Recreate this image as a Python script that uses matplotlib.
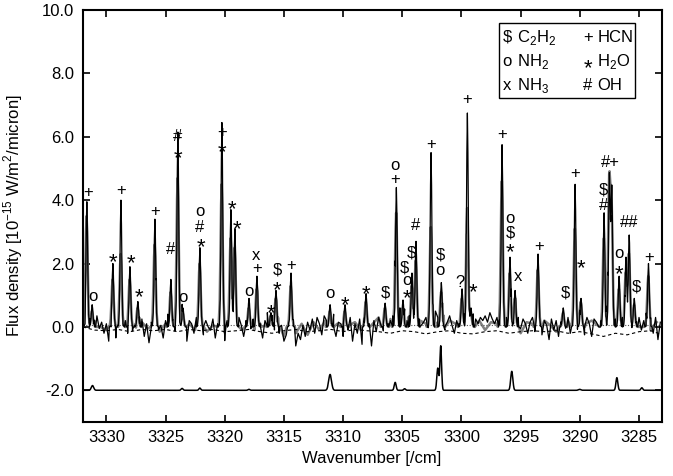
import numpy as np
import matplotlib
matplotlib.use("Agg")
import matplotlib.pyplot as plt
from matplotlib.patches import Rectangle
from matplotlib.transforms import offset_copy

plt.rcParams['font.family'] = ['Liberation Sans', 'DejaVu Sans']
plt.rcParams['axes.unicode_minus'] = False
plt.rcParams['mathtext.fontset'] = 'custom'
plt.rcParams['mathtext.rm'] = 'Liberation Sans'

# ---------------- data ----------------
# emission line centres [cm^-1], heights of black (observed) and grey trace
peak_centers = [3331.65, 3331.2, 3329.45, 3328.77, 3328.01, 3327.34, 3325.9, 3324.55,
                3323.96, 3323.53, 3322.1, 3320.24, 3319.48, 3319.14, 3317.95, 3317.28,
                3316.1, 3315.67, 3314.4, 3311.1, 3309.84, 3308.06, 3306.45, 3305.5,
                3304.94, 3304.18, 3303.84, 3302.57, 3301.7, 3299.95, 3299.5, 3299.2,
                3296.57, 3295.9, 3295.47, 3293.53, 3291.4, 3290.4, 3289.9, 3287.95,
                3287.5, 3287.3, 3286.68, 3286.1, 3285.83, 3285.4, 3284.2]
peak_black = [3.95, 0.7, 2.0, 4.0, 1.9, 0.8, 3.4, 1.5,
              6.15, 0.6, 2.5, 6.45, 3.7, 3.1, 0.9, 1.6,
              0.45, 1.15, 1.7, 0.7, 0.7, 1.05, 0.75, 4.4,
              0.85, 1.7, 2.7, 5.5, 1.4, 1.2, 6.75, 0.6,
              5.75, 2.2, 1.15, 2.3, 0.6, 4.5, 0.9, 3.6,
              4.8, 4.4, 1.6, 2.2, 2.9, 0.9, 2.0]
peak_grey = [3.5, 0.5, 1.5, 2.3, 1.5, 0.6, 2.6, 1.1,
             4.7, 0.45, 2.0, 4.5, 2.8, 2.5, 0.6, 1.2,
             0.35, 0.9, 1.3, 0.5, 0.5, 0.8, 0.6, 3.6,
             0.6, 1.3, 2.1, 3.15, 1.1, 0.9, 3.75, 0.45,
             4.6, 1.7, 0.9, 1.8, 0.45, 3.1, 0.8, 2.8,
             4.5, 3.9, 1.2, 1.7, 2.3, 0.7, 1.6]

# baseline fluctuations of the black trace, every 0.2 cm^-1 from 3332.0 downward
noise_black = [
    -0.55, -0.3, 0.1, 0.25, -0.1, 0.2, 0.35, -0.05, 0.15, -0.2,
    0.1, -0.45, -0.2, 0.15, -0.35, 0.05, -0.55, -0.1, 0.2, -0.25,
    0.3, -0.15, 0.05, -0.4, 0.2, 0.25, -0.3, 0.1, -0.5, 0.15,
    -0.2, 0.3, -0.1, 0.05, -0.35, 0.2, 0.4, -0.25, 0.1, -0.15,
    0.25, -0.3, 0.35, 0.05, -0.45, 0.2, 0.1, -0.2, 0.3, -0.05,
    0.15, -0.25, 0.2, 0.0, -0.1, 0.25, -0.35, 0.1, 0.3, -0.2,
    -0.45, 0.2, -0.1, 0.35, 0.15, -0.25, 0.3, 0.05, -0.3, 0.2,
    0.4, -0.15, 0.25, -0.05, 0.3, 0.1, -0.35, 0.2, 0.45, -0.1,
    0.2, -0.3, 0.15, -0.2, 0.05, -0.45, -0.25, 0.1, -0.5, 0.2,
    -0.6, -0.2, -0.4, 0.05, -0.3, 0.15, -0.1, 0.25, -0.2, 0.3,
    0.1, -0.25, 0.35, 0.2, 0.05, -0.15, 0.4, -0.3, 0.15, 0.1,
    -0.35, 0.2, -0.1, 0.3, -0.45, 0.1, -0.2, 0.25, -0.55, 0.15,
    -0.3, 0.1, -0.6, 0.2, -0.15, 0.3, 0.05, -0.2, 0.15, 0.1,
    0.2, 0.35, 0.5, 0.3, 0.6, 0.25, 0.45, 0.2, 0.35, 0.15,
    0.3, 0.1, 0.25, 0.05, 0.15, 0.3, -0.05, 0.2, 0.4, 0.5,
    0.3, 0.1, 0.25, -0.1, 0.15, 0.35, 0.05, -0.2, 0.2, 0.1,
    0.2, 0.3, 0.5, 0.35, 0.15, 0.4, 0.25, 0.1, 0.3, 0.2,
    0.35, 0.15, 0.45, 0.25, 0.1, 0.3, 0.2, 0.05, 0.25, 0.3,
    0.15, 0.4, -0.1, 0.2, 0.3, -0.05, 0.25, 0.1, -0.2, 0.15,
    0.3, -0.15, 0.35, 0.1, -0.25, 0.2, 0.05, -0.4, 0.25, -0.1,
    0.2, -0.3, 0.15, 0.25, -0.05, 0.3, -0.2, 0.1, 0.35, -0.15,
    0.2, 0.05, -0.25, 0.3, 0.1, -0.3, 0.25, 0.15, 0.0, 0.2,
    0.1, 0.3, -0.1, 0.2, 0.05, 0.25, 0.15, -0.05, 0.3, 0.2,
    0.1, 0.35, -0.05, 0.25, 0.15, 0.3, -0.1, 0.2, 0.4, 0.1,
    0.25, -0.2, 0.3, -0.4, 0.15]

# baseline fluctuations of the grey trace, every 0.5 cm^-1 from 3332.0 downward
noise_grey = [
    0.1, -0.2, 0.15, 0.0, -0.1, 0.2, -0.15, 0.1, 0.05, -0.2,
    0.15, -0.05, 0.2, -0.15, 0.1, 0.0, -0.2, 0.15, 0.1, -0.1,
    0.2, -0.15, 0.05, 0.1, -0.25, 0.15, 0.0, -0.1, 0.2, -0.2,
    0.1, 0.05, -0.15, 0.2, -0.3, 0.0, -0.2, 0.1, -0.25, 0.15,
    -0.1, 0.2, -0.05, 0.1, -0.3, 0.05, 0.15, -0.1, 0.2, 0.1,
    0.3, 0.15, 0.25, 0.1, 0.2, 0.3, 0.05, 0.2, 0.1, 0.25,
    0.15, 0.3, 0.2, 0.1, 0.25, 0.15, 0.05, 0.2, -0.1, 0.15,
    0.1, -0.15, 0.2, 0.0, -0.2, 0.15, 0.1, -0.1, 0.2, 0.05,
    -0.15, 0.1, 0.2, -0.05, 0.15, 0.1, 0.2, 0.05, 0.15, -0.1,
    0.2, 0.1, -0.05, 0.15, 0.0, 0.1, -0.2, 0.15]

# dashed continuum/error level, every 1 cm^-1 from 3332 to 3283
dashed_level = [0.0, -0.1, -0.12, -0.08, -0.15, -0.08, -0.12, -0.08, -0.15, -0.08,
                -0.12, -0.08, -0.15, -0.12, -0.08, -0.15, -0.2, -0.12, -0.08, -0.15,
                -0.12, -0.08, -0.15, -0.08, -0.12, -0.15, -0.2, -0.12, -0.15, -0.22,
                -0.15, -0.12, -0.2, -0.22, -0.15, -0.12, -0.2, -0.15, -0.12, -0.15,
                -0.12, -0.2, -0.15, -0.22, -0.3, -0.2, -0.25, -0.15, -0.12, -0.25]
dotted_level = 0.05

# lower (offset) trace: features on top of -2.0
lower_offset = -2.0
lower_centers = [3331.17, 3323.6, 3322.1, 3317.95, 3311.1, 3305.6, 3304.8,
                 3302.0, 3301.75, 3295.75, 3290.0, 3286.87, 3284.76]
lower_heights = [0.15, 0.06, 0.07, 0.03, 0.5, 0.25, 0.05,
                 0.7, 1.4, 0.6, 0.03, 0.4, 0.08]
lower_widths = [0.1, 0.08, 0.08, 0.08, 0.12, 0.08, 0.08,
                0.08, 0.07, 0.09, 0.1, 0.08, 0.08]

# species identifications: (wavenumber, flux, symbol)
label_x = [3331.56, 3331.14, 3329.45, 3328.77, 3327.93, 3327.25, 3325.9, 3324.55,
           3323.96, 3323.96, 3323.53, 3322.1, 3322.1, 3322.01, 3320.24, 3320.24,
           3319.39, 3318.97, 3317.95, 3317.36, 3317.28, 3316.1, 3315.59, 3315.59,
           3314.4, 3311.11, 3309.84, 3308.07, 3306.46, 3305.62, 3305.62, 3304.86,
           3304.61, 3304.61, 3304.27, 3303.84, 3302.57, 3301.81, 3301.81, 3300.12,
           3299.02, 3299.53, 3296.57, 3295.89, 3295.89, 3295.89, 3295.22, 3293.44,
           3291.24, 3290.4, 3289.89, 3287.44, 3288.03, 3288.03, 3285.83, 3286.68,
           3286.68, 3285.24, 3284.14]
label_y = [4.23, 0.95, 2.24, 4.29, 2.21, 1.14, 3.63, 2.43,
           6.0, 5.53, 0.92, 3.63, 3.13, 2.72, 6.13, 5.72,
           3.92, 3.28, 1.11, 2.24, 1.83, 0.63, 1.80, 1.36,
           1.93, 1.04, 0.88, 1.23, 1.07, 5.08, 4.64, 1.86,
           1.45, 1.10, 2.34, 3.19, 5.75, 2.27, 1.77, 1.39,
           1.29, 7.17, 6.06, 3.41, 2.97, 2.56, 1.58, 2.53,
           1.07, 4.83, 2.05, 5.18, 4.33, 3.82, 3.28, 2.31,
           1.86, 1.26, 2.18]
label_txt = ['+', 'o', '*', '+', '*', '*', '+', '#',
             '#', '*', 'o', 'o', '#', '*', '+', '*',
             '*', '*', 'o', 'x', '+', '*', '$', '*',
             '+', 'o', '*', '*', '$', 'o', '+', '$',
             'o', '*', '$', '#', '+', '$', 'o', '?',
             '*', '+', '+', 'o', '$', '*', 'x', '+',
             '$', '+', '*', '#+', '$', '#', '##', 'o',
             '*', '$', '+']

legend_symbols = ['$', '+', 'o', '*', 'x', '#']
legend_names = ['C$_2$H$_2$', 'HCN', 'NH$_2$', 'H$_2$O', 'NH$_3$', 'OH']

xticks = [3330, 3325, 3320, 3315, 3310, 3305, 3300, 3295, 3290, 3285]
yticks = [-2.0, 0.0, 2.0, 4.0, 6.0, 8.0, 10.0]

# ---------------- build traces ----------------
pc = np.array(peak_centers)
pb = np.array(peak_black)
pg = np.array(peak_grey)


def lines(x, cen, hgt, sig):
    return (hgt[None, :] * np.exp(-0.5 * ((x[:, None] - cen[None, :]) / sig) ** 2)).sum(axis=1)


offs = np.array([-0.3, -0.21, -0.14, -0.09, -0.045, 0.0, 0.045, 0.09, 0.14, 0.21, 0.3])

gb = 3332.0 - 0.2 * np.arange(len(noise_black))
keep = np.min(np.abs(gb[:, None] - pc[None, :]), axis=1) > 0.06
xb = np.concatenate([gb[keep], (pc[:, None] + offs[None, :]).ravel()])
nb = np.concatenate([np.array(noise_black)[keep], np.zeros(pc.size * offs.size)])
o = np.argsort(xb)
xb, nb = xb[o], nb[o]
yb = nb + lines(xb, pc, pb, 0.07)

gg = 3332.0 - 0.5 * np.arange(len(noise_grey))
keepg = np.min(np.abs(gg[:, None] - pc[None, :]), axis=1) > 0.15
offg = np.array([-0.35, -0.25, -0.17, -0.1, -0.05, 0.0, 0.05, 0.1, 0.17, 0.25, 0.35])
xg = np.concatenate([gg[keepg], (pc[:, None] + 0.02 + offg[None, :]).ravel()])
ng = np.concatenate([np.array(noise_grey)[keepg], np.zeros(pc.size * offg.size)])
o = np.argsort(xg)
xg, ng = xg[o], ng[o]
yg = ng + lines(xg - 0.02, pc, pg, 0.09)

xd = 3332.0 - np.arange(len(dashed_level))

xl = np.linspace(3283.1, 3332.0, 2500)
yl = lower_offset + (np.array(lower_heights)[None, :] *
                     np.exp(-0.5 * ((xl[:, None] - np.array(lower_centers)[None, :]) /
                                    np.array(lower_widths)[None, :]) ** 2)).sum(axis=1)

# ---------------- plot ----------------
fig = plt.figure(figsize=(6.73, 4.76), dpi=100)
ax = fig.add_axes([82.7 / 673, 54 / 476, 578.8 / 673, 412 / 476])

ax.plot(xg, yg, color='#808080', lw=1.8, zorder=2)
ax.plot(xb, yb, color='black', lw=0.9, zorder=3)
ax.plot(xd, dashed_level, color='black', lw=0.8, dashes=(3, 2.5), zorder=2)
ax.axhline(dotted_level, color='#555555', lw=0.8, ls=(0, (1, 1.5)), zorder=2)
ax.plot(xl, yl, color='black', lw=1.1, zorder=3)

STAR_SIZE = 16
star_tr = offset_copy(ax.transData, fig=fig, x=0, y=-5.0, units='points')
for x, y, t in zip(label_x, label_y, label_txt):
    if t == '*':
        ax.text(x, y, t, transform=star_tr, ha='center', va='center',
                fontsize=STAR_SIZE, zorder=5)
    else:
        ax.text(x, y, t.replace('$', r'\$'), transform=ax.transData, ha='center',
                va='center', fontsize=12, zorder=5)

ax.set_xlim(3332.0, 3283.1)
ax.set_ylim(-3.0, 10.0)
ax.set_xticks(xticks)
ax.set_xticklabels([str(v) for v in xticks])
ax.set_yticks(yticks)
ax.set_yticklabels(['%.1f' % v for v in yticks])
ax.tick_params(direction='in', top=True, right=True, length=5, width=1.2,
               labelsize=12, pad=6)
for s in ax.spines.values():
    s.set_linewidth(1.5)

ax.set_xlabel('Wavenumber [/cm]', fontsize=12, labelpad=4)
ax.set_ylabel(r'Flux density [10$^{-15}$ W/m$^2$/micron]', fontsize=12)
ax.yaxis.set_label_coords(-0.099, 0.5)

# legend box
ax.add_patch(Rectangle((0.7195, 0.786), 0.2345, 0.182, transform=ax.transAxes,
                       fill=False, lw=1.0, ec='black', zorder=6))
rows = [0.934, 0.874, 0.816]
for i, (sym, name) in enumerate(zip(legend_symbols, legend_names)):
    r = rows[i // 2]
    col = i % 2
    sx = 0.733 if col == 0 else 0.873
    tx = 0.751 if col == 0 else 0.889
    if sym == '*':
        trs = offset_copy(ax.transAxes, fig=fig, x=0, y=-5.0, units='points')
        ax.text(sx, r, sym, transform=trs, ha='center', va='center',
                fontsize=STAR_SIZE, zorder=7)
    else:
        ax.text(sx, r, sym.replace('$', r'\$'), transform=ax.transAxes, ha='center',
                va='center', fontsize=12, zorder=7)
    ax.text(tx, r, name, transform=ax.transAxes, ha='left', va='center',
            fontsize=12, zorder=7)

fig.savefig('out.png', dpi=100)
